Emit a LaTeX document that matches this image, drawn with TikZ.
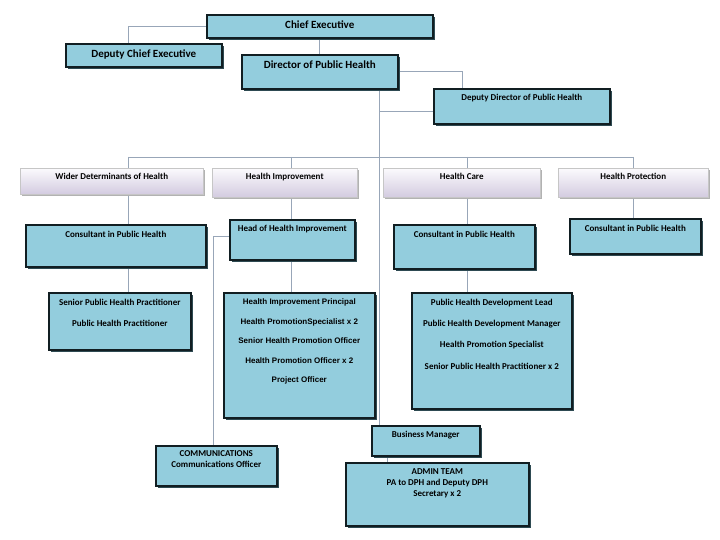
\documentclass[tikz,border=0pt]{standalone}
\usepackage{fontspec}
\setmainfont{Carlito}
\newfontfamily\arialf{Liberation Sans}
\usetikzlibrary{shadows,calc}
\definecolor{boxfill}{HTML}{93CDDD}
\definecolor{boxline}{HTML}{111E22}
\definecolor{shad}{HTML}{2E4A52}
\definecolor{conn}{HTML}{98A6B8}
\definecolor{lavtop}{HTML}{FBFAFD}
\definecolor{lavbot}{HTML}{D3CBE0}
\pgfdeclarelayer{bg}
\pgfdeclarelayer{paper}
\pgfsetlayers{paper,bg,main}
\newcommand\orgbox[7]{%
  \node[#1, anchor=north west, inner sep=0pt] (#2) at (#3,#4)
  {\parbox[t][\dimexpr #6pt-#4pt\relax][t]{\dimexpr #5pt-#3pt\relax}{\centering\bfseries #7\par}};}
\tikzset{
  bx/.style={draw=boxline, line width=1.6pt, fill=boxfill,
    drop shadow={shadow xshift=1.8pt, shadow yshift=-1.8pt, fill=shad, opacity=1}},
  hd/.style={draw=gray!45, line width=0.5pt, top color=lavtop, bottom color=lavbot,
    drop shadow={shadow xshift=1.5pt, shadow yshift=-1.5pt, fill=gray!60, opacity=1}},
  conn/.style={draw=conn, line width=0.8pt}
}
\begin{document}
\begin{tikzpicture}[x=1pt,y=-1pt]
\begin{pgfonlayer}{paper}
\fill[white] (0,0) rectangle (720,540);
\end{pgfonlayer}
\useasboundingbox (0,0) rectangle (720,540);
% top
\orgbox{bx}{CE}{206}{14}{432}{37}{\fontsize{11}{13}\selectfont\vspace*{6pt}Chief Executive}
\orgbox{bx}{DCE}{65}{43}{221}{66}{\fontsize{11}{13}\selectfont\vspace*{6pt}Deputy Chief Executive}
\orgbox{bx}{DPH}{241}{54}{397}{88}{\fontsize{11}{13}\selectfont\vspace*{6pt}Director of Public Health}
\orgbox{bx}{DDPH}{433}{88}{609}{123}{\fontsize{9}{11}\selectfont\vspace*{5pt}Deputy Director of Public Health}
% headers
\orgbox{hd}{WDh}{20}{168}{203}{194}{\fontsize{9}{11}\selectfont\vspace*{5pt}Wider Determinants of Health}
\orgbox{hd}{HIh}{212}{168}{357}{197}{\fontsize{9}{11}\selectfont\vspace*{5pt}Health Improvement}
\orgbox{hd}{HCh}{383}{168}{540}{197}{\fontsize{9}{11}\selectfont\vspace*{5pt}Health Care}
\orgbox{hd}{HPh}{558}{168}{708}{197}{\fontsize{9}{11}\selectfont\vspace*{5pt}Health Protection}
% consultants
\orgbox{bx}{WDc}{25}{224}{205}{266}{\fontsize{9}{11}\selectfont\vspace*{6pt}Consultant in Public Health}
\orgbox{bx}{HoHI}{229}{219}{354}{259}{\fontsize{9}{11}\selectfont\vspace*{5pt}Head of Health Improvement}
\orgbox{bx}{HCc}{393}{224}{534}{268}{\fontsize{9}{11}\selectfont\vspace*{6pt}Consultant in Public Health}
\orgbox{bx}{HPc}{569}{218}{700}{253}{\fontsize{9}{11}\selectfont\vspace*{6pt}Consultant in Public Health}
% teams
\orgbox{bx}{SPHP}{48}{292}{190}{349}{\fontsize{9}{21}\selectfont\vspace*{6pt}Senior Public Health Practitioner\\Public Health Practitioner}
\orgbox{bx}{HIP}{223}{292}{374}{417}{\arialf\fontsize{8}{19.5}\selectfont\vspace*{6pt}Health Improvement Principal\\Health PromotionSpecialist x 2\\Senior Health Promotion Officer\\Health Promotion Officer x 2\\Project Officer}
\orgbox{bx}{PHDL}{411}{292}{571}{408}{\fontsize{9}{21.3}\selectfont\vspace*{6pt}Public Health Development Lead\\Public Health Development Manager\\Health Promotion Specialist\\Senior Public Health Practitioner x 2}
% bottom
\orgbox{bx}{BM}{371}{425}{479}{455}{\fontsize{9}{11}\selectfont\vspace*{5pt}Business Manager}
\orgbox{bx}{COMMS}{155}{445}{276}{485}{\fontsize{9}{11}\selectfont\vspace*{5pt}COMMUNICATIONS\\Communications Officer}
\orgbox{bx}{ADMIN}{345}{462}{528}{525}{\fontsize{9}{11}\selectfont\vspace*{6pt}ADMIN TEAM\\PA to DPH and Deputy DPH\\Secretary x 2}
% connectors
\begin{pgfonlayer}{bg}
\coordinate (dwd) at (128,157);
\coordinate (dhi) at (291,157);
\coordinate (dhc) at (467,157);
\coordinate (dhp) at (633,157);
\coordinate (sp) at ([xshift=60pt]DPH.south);
\coordinate (ddw) at ([yshift=-5.5pt]DDPH.west);
\coordinate (hw) at ([yshift=3pt]HoHI.west);
\coordinate (bmd) at ([xshift=-38.5pt]BM.south);
\draw[conn] (CE.west) -| ([xshift=-15pt]DCE.north);
\draw[conn] (CE.south) -- (DPH.north);
\draw[conn] (DPH.east) -| ([xshift=-59pt]DDPH.north);
\draw[conn] (sp) -- (sp |- BM.north);
\draw[conn] (sp |- ddw) -- (ddw);
\draw[conn] (dwd) -- (dhp);
\draw[conn] (dwd) -- (dwd |- SPHP.north);
\draw[conn] (dhi) -- (dhi |- HIP.north);
\draw[conn] (dhc) -- (dhc |- PHDL.north);
\draw[conn] (dhp) -- (dhp |- HPc.north);
\draw[conn] (hw) -| ([xshift=-2.5pt]COMMS.north);
\draw[conn] (bmd) -- (bmd |- ADMIN.north);
\end{pgfonlayer}
\end{tikzpicture}
\end{document}
